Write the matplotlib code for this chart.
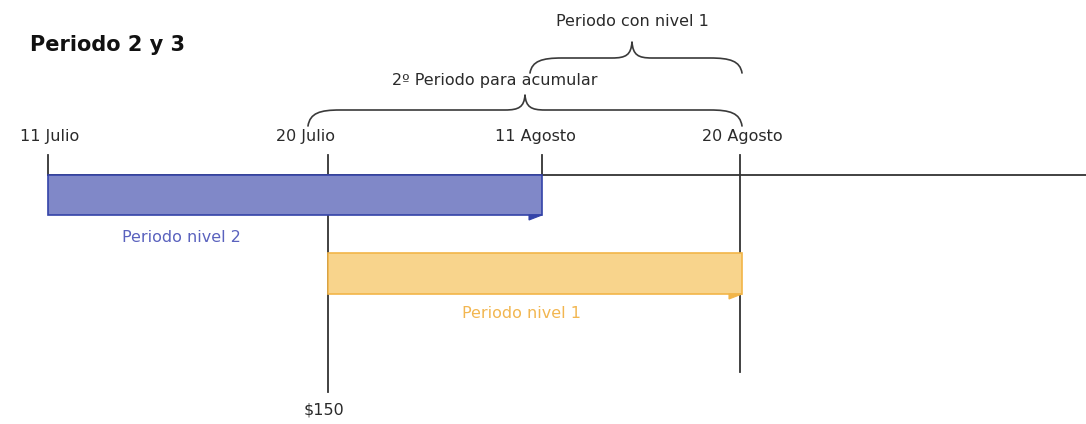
import matplotlib
matplotlib.use("Agg")
import matplotlib.pyplot as plt
from matplotlib.path import Path
from matplotlib.patches import PathPatch, Rectangle, Polygon

# ---- data ----
date_labels = ["11 Julio", "20 Julio", "11 Agosto", "20 Agosto"]
date_pos = [48, 328, 542, 740]          # schematic timeline positions
bar_names = ["Periodo nivel 2", "Periodo nivel 1"]
bar_start = [0, 1]                      # index into date_pos
bar_end = [2, 3]
brace_texts = ["2º Periodo para acumular", "Periodo con nivel 1"]
brace_start = [1, 2]
brace_end = [3, 3]
amount_label = "$150"
title = "Periodo 2 y 3"

# ---- styles ----
fill_cols = ["#8088C8", "#F8D48C"]
edge_cols = ["#3443A8", "#F2B548"]
text_cols = ["#5A62BE", "#F2B650"]
bar_y = [175, 253]
bar_h = [40, 41]

fig = plt.figure(figsize=(10.86, 4.24), dpi=100)
ax = fig.add_axes([0, 0, 1, 1])
ax.set_xlim(0, 1086)
ax.set_ylim(424, 0)
ax.axis("off")

lc = "#333333"
# main timeline
ax.plot([date_pos[0], 1086], [175, 175], color=lc, lw=1.3, zorder=1)
# ticks
tick_bottom = [175, 392, 175, 372]
for x, yb in zip(date_pos, tick_bottom):
    ax.plot([x, x], [155, yb], color=lc, lw=1.3, zorder=1)

label_dx = [2, -23, -7, 2]
for lab, x, dx in zip(date_labels, date_pos, label_dx):
    ax.text(x + dx, 137, lab, ha="center", va="center", fontsize=11.5,
            color="#2a2a2a", family="DejaVu Sans")

# bars
label_pos = [(181, 238), (521, 313)]
for i, name in enumerate(bar_names):
    x0 = date_pos[bar_start[i]]
    x1 = date_pos[bar_end[i]] + (0 if i == 0 else 2)
    y0 = bar_y[i]
    h = bar_h[i]
    ax.add_patch(Rectangle((x0, y0), x1 - x0, h, facecolor=fill_cols[i],
                           edgecolor=edge_cols[i], lw=1.2, zorder=3))
    ax.add_patch(Polygon([(x1 - 13, y0 + h), (x1, y0 + h), (x1 - 13, y0 + h + 5)],
                         closed=True, facecolor=edge_cols[i], edgecolor=edge_cols[i],
                         lw=0.8, zorder=3))
    ax.text(label_pos[i][0], label_pos[i][1], name, ha="center", va="center",
            fontsize=11.5, color=text_cols[i], family="DejaVu Sans")

ax.text(324, 410, amount_label, ha="center", va="center", fontsize=11.5,
        color="#2a2a2a", family="DejaVu Sans")

ax.text(30, 45, title, ha="left", va="center", fontsize=15,
        fontweight="bold", color="#111111", family="DejaVu Sans")


def brace(x0, x1, xm, yb, yh, yt):
    r = 32
    rt = 14
    verts = [(x0, yb),
             (x0 + 2, yh + 3), (x0 + 12, yh), (x0 + r, yh),
             (xm - rt - 6, yh),
             (xm - 6, yh), (xm - 1, yh - 3), (xm, yt),
             (xm + 1, yh - 3), (xm + 6, yh), (xm + rt + 6, yh),
             (x1 - r, yh),
             (x1 - 12, yh), (x1 - 2, yh + 3), (x1, yb)]
    codes = [Path.MOVETO,
             Path.CURVE4, Path.CURVE4, Path.CURVE4,
             Path.LINETO,
             Path.CURVE4, Path.CURVE4, Path.CURVE4,
             Path.CURVE4, Path.CURVE4, Path.CURVE4,
             Path.LINETO,
             Path.CURVE4, Path.CURVE4, Path.CURVE4]
    ax.add_patch(PathPatch(Path(verts, codes), facecolor="none",
                           edgecolor="#3a3a3a", lw=1.2, zorder=2,
                           capstyle="round", joinstyle="round"))


brace_geom = [(-20, 525, 126, 110, 95), (-12, 632, 73, 58, 42)]
brace_text_pos = [(495, 80), (632, 22)]
for i, t in enumerate(brace_texts):
    dx0, xm, yb, yh, yt = brace_geom[i]
    x0 = date_pos[brace_start[i]] + dx0
    x1 = date_pos[brace_end[i]] + 2
    brace(x0, x1, xm, yb, yh, yt)
    ax.text(brace_text_pos[i][0], brace_text_pos[i][1], t, ha="center",
            va="center", fontsize=11.5, color="#2a2a2a", family="DejaVu Sans")

fig.savefig("out.png", dpi=100, facecolor="white")
